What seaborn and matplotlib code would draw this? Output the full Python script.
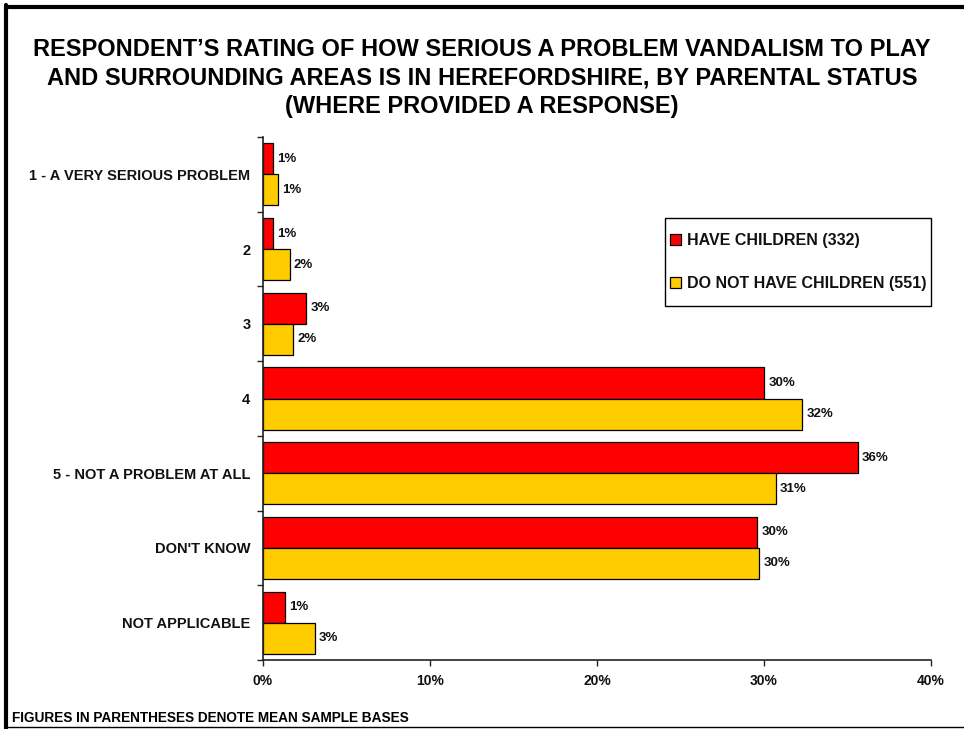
import matplotlib
matplotlib.use("Agg")
import matplotlib.pyplot as plt
from matplotlib.lines import Line2D
from matplotlib.patches import Rectangle
from matplotlib.ticker import FixedLocator, FuncFormatter
import seaborn as sns
import pandas as pd

categories = [
    "1 - A VERY SERIOUS PROBLEM",
    "2",
    "3",
    "4",
    "5 - NOT A PROBLEM AT ALL",
    "DON'T KNOW",
    "NOT APPLICABLE",
]
groups = ["HAVE CHILDREN (332)", "DO NOT HAVE CHILDREN (551)"]
have_children = [0.6, 0.6, 2.6, 30.0, 35.6, 29.6, 1.3]
no_children = [0.9, 1.6, 1.8, 32.3, 30.7, 29.7, 3.1]
x_ticks = [0, 10, 20, 30, 40]

colors = ["#FF0000", "#FFCC00"]
W, H = 964, 729

df = pd.DataFrame({
    "category": categories * 2,
    "group": [groups[0]] * len(categories) + [groups[1]] * len(categories),
    "value": have_children + no_children,
})

sns.set_theme(style="white")
plt.rcParams["font.family"] = ["Liberation Sans", "DejaVu Sans"]

fig = plt.figure(figsize=(W / 100, H / 100), dpi=100)
ax = fig.add_axes([263 / W, 1 - 660 / H, 668 / W, 523 / H])

sns.barplot(
    data=df, y="category", x="value", hue="group",
    order=categories, hue_order=groups, palette=colors,
    orient="h", width=0.83, edgecolor="black", linewidth=0.9,
    saturation=1, ax=ax, legend=True,
)

ax.set_xlim(0, 40)
ax.set_ylim(len(categories) - 0.5, -0.5)
ax.set_xlabel("")
ax.set_ylabel("")

# value labels next to each bar
for cont in ax.containers:
    ax.bar_label(cont, labels=[f"{round(b.get_width()):.0f}%" for b in cont],
                 padding=3, fontsize=9.5, fontweight="bold", color="#111111")

# spines: only left and bottom
for side in ["top", "right"]:
    ax.spines[side].set_visible(False)
for side in ["left", "bottom"]:
    ax.spines[side].set_color("#222222")
    ax.spines[side].set_linewidth(1.2)

# category tick marks sit between the groups
ax.yaxis.set_minor_locator(FixedLocator([i - 0.5 for i in range(len(categories) + 1)]))
ax.tick_params(axis="y", which="major", length=0, pad=9)
ax.tick_params(axis="y", which="minor", length=4, width=1, color="#222222", left=True)
for lbl in ax.get_yticklabels():
    lbl.set_fontsize(10.5)
    lbl.set_fontweight("bold")
    lbl.set_color("#111111")

ax.set_xticks(x_ticks)
ax.xaxis.set_major_formatter(FuncFormatter(lambda v, p: f"{v:.0f}%"))
ax.tick_params(axis="x", which="major", length=4, width=1, color="#222222",
               bottom=True, pad=6)
for lbl in ax.get_xticklabels():
    lbl.set_fontsize(10)
    lbl.set_fontweight("bold")
    lbl.set_color("#111111")

ax.grid(False)

# legend box drawn as a plain rectangle, entries centred inside it
box_x0, box_x1 = (665 - 263) / 668, 1.0
box_y0, box_y1 = 1 - (306 - 137) / 523, 1 - (218 - 137) / 523
ax.add_patch(Rectangle((box_x0, box_y0), box_x1 - box_x0, box_y1 - box_y0,
                       transform=ax.transAxes, fill=True, facecolor="white",
                       edgecolor="black", linewidth=1.0, zorder=5, clip_on=False))
handles, labels = ax.get_legend_handles_labels()
leg = ax.legend(
    handles, labels, loc="center",
    bbox_to_anchor=((box_x0 + box_x1) / 2, (box_y0 + box_y1) / 2),
    borderaxespad=0, frameon=False,
    handlelength=0.7, handleheight=0.7, handletextpad=0.35,
    labelspacing=1.75, borderpad=0.2,
    prop={"weight": "bold", "size": 11.5},
)
leg.set_zorder(6)
for t in leg.get_texts():
    t.set_color("#111111")

fig.text(0.5, 1 - 78 / H,
         "RESPONDENT\u2019S RATING OF HOW SERIOUS A PROBLEM VANDALISM TO PLAY\n"
         "AND SURROUNDING AREAS IS IN HEREFORDSHIRE, BY PARENTAL STATUS\n"
         "(WHERE PROVIDED A RESPONSE)",
         ha="center", va="center", fontsize=17, fontweight="bold",
         linespacing=1.32, color="black")

fig.text(12 / W, 1 - 718 / H, "FIGURES IN PARENTHESES DENOTE MEAN SAMPLE BASES",
         ha="left", va="center", fontsize=9.8, fontweight="bold", color="black")

# page border: heavy top and left rules, thin bottom rule
fig.lines.extend([
    Line2D([5.5 / W, 1.0], [1 - 6.5 / H, 1 - 6.5 / H], transform=fig.transFigure,
           color="black", linewidth=3),
    Line2D([5.5 / W, 5.5 / W], [0, 1 - 5 / H], transform=fig.transFigure,
           color="black", linewidth=3),
    Line2D([5.5 / W, 1.0], [1 - 727 / H, 1 - 727 / H], transform=fig.transFigure,
           color="black", linewidth=1),
])

fig.savefig("out.png", dpi=100)
